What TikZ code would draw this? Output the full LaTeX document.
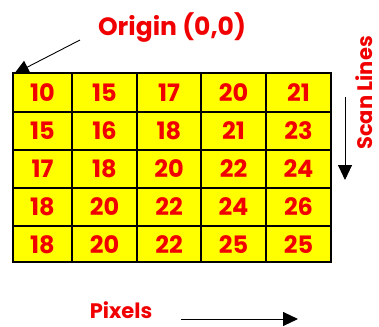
\documentclass[tikz,border=0pt]{standalone}
\usepackage{fontspec}
\setmainfont{Poppins}
\usetikzlibrary{arrows.meta}
\definecolor{cellyellow}{RGB}{255,255,0}
\definecolor{textred}{RGB}{240,0,0}
\tikzset{
  num/.style={text=textred, font=\bfseries\fontsize{24}{24}\selectfont},
  lbl/.style={text=textred, font=\bfseries\fontsize{23}{23}\selectfont, inner sep=0pt},
  bigarrow/.style={-{Triangle[length=15pt,width=14pt]}, line width=0.9pt}
}
\begin{document}
\begin{tikzpicture}[x=1pt,y=-1pt]
\useasboundingbox (0,0) rectangle (379,326);
% grid
\foreach \ya/\yb in {73/112,112/150,150/188,188/226,226/262}{
  \foreach \xa/\xb in {13/72,72/137,137/201,201/266,266/331}{
    \draw[line width=1.2pt, fill=cellyellow] (\xa,\ya) rectangle (\xb,\yb);
  }
}
% numbers
\foreach \row/\yc in {{10,15,17,20,21}/93, {15,16,18,21,23}/131, {17,18,20,22,24}/169, {18,20,22,24,26}/207, {18,20,22,25,25}/245}{
  \foreach \v [count=\c] in \row {
    \pgfmathsetmacro{\xc}{{42.5,104.5,169,233.5,298.5}[\c-1]}
    \node[num] (n\c-\yc) at (\xc,\yc) {\v};
  }
}
\coordinate (orig) at (14,74);
\node[lbl, font=\bfseries\fontsize{25}{25}\selectfont] (origin) at (172,28) {Origin (0,0)};
\coordinate (ostart) at (80,40);
\draw[bigarrow] (ostart) -- (orig);
% scan lines
\node[lbl, font=\bfseries\fontsize{21}{21}\selectfont, rotate=90, anchor=base] (scan) at (372,93) {Scan Lines};
\coordinate (sa) at (345,97);
\coordinate (sb) at (345,180);
\draw[bigarrow] (sa) -- (sb);
% pixels
\node[lbl, font=\bfseries\fontsize{21}{21}\selectfont, anchor=base] (pix) at (121,318) {Pixels};
\coordinate (pa) at (181,319);
\coordinate (pb) at (298,319);
\draw[bigarrow] (pa) -- (pb);
\end{tikzpicture}
\end{document}
